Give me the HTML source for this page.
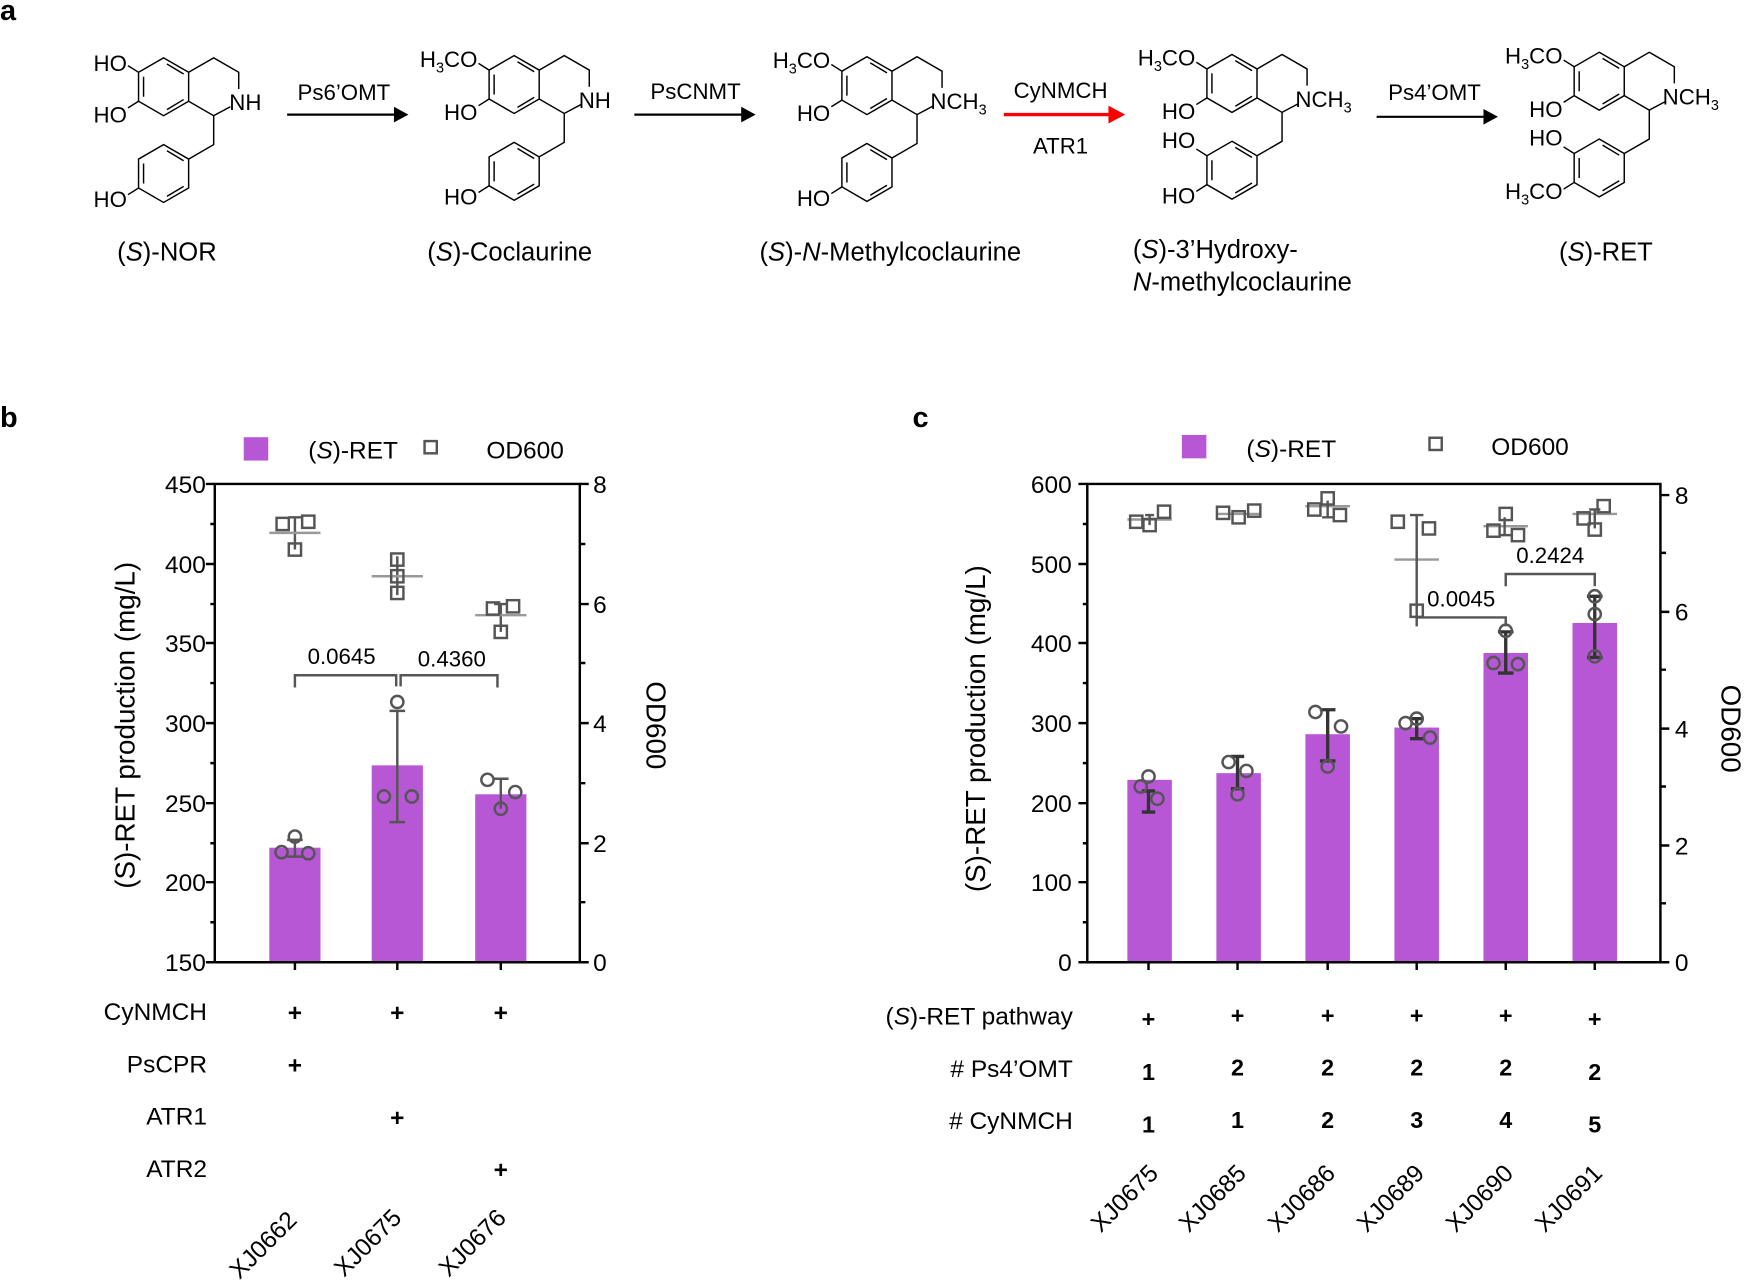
<!DOCTYPE html>
<html><head><meta charset="utf-8"><style>
html,body{margin:0;padding:0;background:#fff;}
svg{display:block;}
text{font-family:"Liberation Sans",Arial,sans-serif;fill:#000;}
</style></head><body>
<svg width="1745" height="1286" viewBox="0 0 1568 1156" preserveAspectRatio="none" xmlns="http://www.w3.org/2000/svg">
<defs>
<g id="core" fill="none" stroke="#000" stroke-width="1.3">
<path d="M0,-26 L22.5,-13 L22.5,13 L0,26 L-22.5,13 L-22.5,-13 Z"/>
<path d="M3,-20.5 L18,-11.5 M18,11.5 L3,20.5 M-18,-9 L-18,9"/>
<path d="M22.5,-13 L45,-26 L67.5,-13 L67.5,2 M60,18 L45,26 L22.5,13 M45,26 L45,52 L22.5,65"/>
<path d="M0,52 L22.5,65 L22.5,91 L0,104 L-22.5,91 L-22.5,65 Z"/>
<path d="M3,57.5 L18,66.5 M18,89.5 L3,98.5 M-18,69 L-18,87"/>
<path d="M-22.5,-13 L-32,-19 M-22.5,13 L-32,19 M-22.5,91 L-32,97"/>
</g>
<g id="sq"><rect x="-5.5" y="-5.5" width="11" height="11" fill="none" stroke="#555" stroke-width="2.2"/></g>
<g id="ci"><circle r="5.5" fill="none" stroke="#555" stroke-width="2.2"/></g>
</defs>

<!-- Panel a -->
<text x="0" y="18" font-size="26" font-weight="bold">a</text>
<g font-size="20">
<g transform="translate(147,78)"><use href="#core"/>
<text x="-33" y="-14" text-anchor="end">HO</text><text x="-33" y="32" text-anchor="end">HO</text>
<text x="59" y="21">NH</text><text x="-33" y="108" text-anchor="end">HO</text></g>
<g transform="translate(462,76)"><use href="#core"/>
<text x="-33" y="-16" text-anchor="end">H<tspan font-size="13" dy="5">3</tspan><tspan dy="-5">CO</tspan></text><text x="-33" y="32" text-anchor="end">HO</text>
<text x="58" y="21">NH</text><text x="-33" y="108" text-anchor="end">HO</text></g>
<g transform="translate(779,77)"><use href="#core"/>
<text x="-33" y="-16" text-anchor="end">H<tspan font-size="13" dy="5">3</tspan><tspan dy="-5">CO</tspan></text><text x="-33" y="32" text-anchor="end">HO</text>
<text x="57" y="21">NCH<tspan font-size="13" dy="5">3</tspan></text><text x="-33" y="108" text-anchor="end">HO</text></g>
<g transform="translate(1107,75)"><use href="#core"/>
<path d="M-22.5,65 L-32,59" stroke="#000" stroke-width="1.3"/>
<text x="-33" y="-16" text-anchor="end">H<tspan font-size="13" dy="5">3</tspan><tspan dy="-5">CO</tspan></text><text x="-33" y="32" text-anchor="end">HO</text>
<text x="57" y="21">NCH<tspan font-size="13" dy="5">3</tspan></text><text x="-33" y="58" text-anchor="end">HO</text><text x="-33" y="108" text-anchor="end">HO</text></g>
<g transform="translate(1437,73)"><use href="#core"/>
<path d="M-22.5,65 L-32,59" stroke="#000" stroke-width="1.3"/>
<text x="-33" y="-16" text-anchor="end">H<tspan font-size="13" dy="5">3</tspan><tspan dy="-5">CO</tspan></text><text x="-33" y="32" text-anchor="end">HO</text>
<text x="57" y="21">NCH<tspan font-size="13" dy="5">3</tspan></text><text x="-33" y="58" text-anchor="end">HO</text><text x="-33" y="106" text-anchor="end">H<tspan font-size="13" dy="5">3</tspan><tspan dy="-5">CO</tspan></text></g>
</g>
<g stroke="#000" stroke-width="2"><line x1="258" y1="103" x2="356" y2="103"/><line x1="570" y1="103" x2="668" y2="103"/><line x1="1237" y1="105" x2="1335" y2="105"/></g>
<path d="M354,96 L367,103 L354,110 Z M666,96 L679,103 L666,110 Z M1333,98 L1346,105 L1333,112 Z" fill="#000"/>
<line x1="902" y1="103" x2="998" y2="103" stroke="#f00" stroke-width="3"/>
<path d="M996,95 L1011,103 L996,111 Z" fill="#f00"/>
<g font-size="20" text-anchor="middle">
<text x="309" y="90">Ps6’OMT</text><text x="625" y="89">PsCNMT</text><text x="953" y="88">CyNMCH</text><text x="953" y="138">ATR1</text><text x="1289" y="90">Ps4’OMT</text>
</g>
<g font-size="23" text-anchor="middle">
<text x="150" y="234">(<tspan font-style="italic">S</tspan>)-NOR</text>
<text x="458" y="234">(<tspan font-style="italic">S</tspan>)-Coclaurine</text>
<text x="800" y="234">(<tspan font-style="italic">S</tspan>)-<tspan font-style="italic">N</tspan>-Methylcoclaurine</text>
<text x="1443" y="234">(<tspan font-style="italic">S</tspan>)-RET</text>
</g>
<g font-size="23">
<text x="1018" y="232">(<tspan font-style="italic">S</tspan>)-3’Hydroxy-</text>
<text x="1018" y="261"><tspan font-style="italic">N</tspan>-methylcoclaurine</text>
</g>

<!-- Panel b -->
<text x="0" y="384" font-size="26" font-weight="bold">b</text>
<rect x="219" y="393" width="22" height="21" fill="#b757d6"/>
<text x="277" y="412" font-size="22">(<tspan font-style="italic">S</tspan>)-RET</text>
<use href="#sq" x="387" y="402"/>
<text x="437" y="412" font-size="22">OD600</text>
<g fill="#b757d6"><rect x="242" y="762" width="46" height="103"/><rect x="334" y="688" width="46" height="177"/><rect x="427" y="714" width="46" height="151"/></g>
<g stroke="#000" stroke-width="2.2" fill="none">
<path d="M193,435 V865 H521 V435 Z"/>
<path d="M185,435H193M185,507H193M185,578H193M185,650H193M185,722H193M185,793H193M185,865H193"/>
<path d="M189,471H193M189,543H193M189,614H193M189,686H193M189,758H193M189,829H193"/>
<path d="M521,435H529M521,543H529M521,650H529M521,758H529M521,865H529"/>
<path d="M521,489H526M521,596H526M521,704H526M521,811H526"/>
<path d="M265,865V872M357,865V872M450,865V872"/>
</g>
<g font-size="22" text-anchor="end"><text x="185" y="443">450</text><text x="185" y="515">400</text><text x="185" y="586">350</text><text x="185" y="658">300</text><text x="185" y="730">250</text><text x="185" y="801">200</text><text x="185" y="873">150</text></g>
<g font-size="22"><text x="533" y="443">8</text><text x="533" y="551">6</text><text x="533" y="658">4</text><text x="533" y="766">2</text><text x="533" y="873">0</text></g>
<text transform="translate(121,652) rotate(-90)" font-size="25" text-anchor="middle">(S)-RET production (mg/L)</text>
<text transform="translate(581,652) rotate(90)" font-size="25" text-anchor="middle">OD600</text>
<g stroke="#555" stroke-width="2.2" fill="none">
<path d="M265,755V770M258,755H272M258,770H272"/>
<path d="M357,639V739M350,639H364M350,739H364"/>
<path d="M450,700V727M443,700H457"/>
<path d="M265,465V494M259,465H271M357,500V535M450,543V568M444,543H456"/>
<path d="M265,618V607H356V617M360,617V607H447V618"/>
</g>
<g stroke="#999" stroke-width="2.2"><path d="M242,479H288M334,518H380M427,553H473"/></g>
<use href="#ci" x="265" y="752"/><use href="#ci" x="253" y="766"/><use href="#ci" x="277" y="767"/>
<use href="#ci" x="357" y="631"/><use href="#ci" x="345" y="716"/><use href="#ci" x="370" y="716"/>
<use href="#ci" x="438" y="701"/><use href="#ci" x="463" y="712"/><use href="#ci" x="450" y="727"/>
<use href="#sq" x="254" y="471"/><use href="#sq" x="277" y="469"/><use href="#sq" x="265" y="494"/>
<use href="#sq" x="357" y="503"/><use href="#sq" x="357" y="518"/><use href="#sq" x="357" y="533"/>
<use href="#sq" x="443" y="547"/><use href="#sq" x="461" y="545"/><use href="#sq" x="450" y="568"/>
<g font-size="20" text-anchor="middle"><text x="307" y="597">0.0645</text><text x="406" y="599">0.4360</text></g>
<g font-size="22" text-anchor="end"><text x="186" y="917">CyNMCH</text><text x="186" y="964">PsCPR</text><text x="186" y="1011">ATR1</text><text x="186" y="1058">ATR2</text></g>
<g font-size="22" font-weight="bold" text-anchor="middle"><text x="265" y="918">+</text><text x="357" y="918">+</text><text x="450" y="918">+</text><text x="265" y="965">+</text><text x="357" y="1012">+</text><text x="450" y="1059">+</text></g>
<g font-size="22" text-anchor="end"><text transform="translate(268,1098) rotate(-45)">XJ0662</text><text transform="translate(362,1096) rotate(-45)">XJ0675</text><text transform="translate(456,1096) rotate(-45)">XJ0676</text></g>

<!-- Panel c -->
<text x="820" y="384" font-size="26" font-weight="bold">c</text>
<rect x="1062" y="391" width="22" height="21" fill="#b757d6"/>
<text x="1120" y="411" font-size="22">(<tspan font-style="italic">S</tspan>)-RET</text>
<use href="#sq" x="1290" y="399"/>
<text x="1340" y="409" font-size="22">OD600</text>
<g fill="#b757d6">
<rect x="1013" y="701" width="40" height="164"/><rect x="1093" y="695" width="40" height="170"/><rect x="1173" y="660" width="40" height="205"/><rect x="1253" y="654" width="40" height="211"/><rect x="1333" y="587" width="40" height="278"/><rect x="1413" y="560" width="40" height="305"/>
</g>
<g stroke="#000" stroke-width="2.2" fill="none">
<path d="M977,435 V865 H1492 V435 Z"/>
<path d="M969,435H977M969,507H977M969,578H977M969,650H977M969,722H977M969,793H977M969,865H977"/>
<path d="M973,471H977M973,543H977M973,614H977M973,686H977M973,758H977M973,829H977"/>
<path d="M1492,445H1500M1492,550H1500M1492,655H1500M1492,760H1500M1492,865H1500"/>
<path d="M1492,497H1497M1492,602H1497M1492,707H1497M1492,812H1497"/>
<path d="M1032,865V872M1112,865V872M1193,865V872M1273,865V872M1353,865V872M1433,865V872"/>
</g>
<g font-size="22" text-anchor="end"><text x="963" y="443">600</text><text x="963" y="515">500</text><text x="963" y="586">400</text><text x="963" y="658">300</text><text x="963" y="730">200</text><text x="963" y="801">100</text><text x="963" y="873">0</text></g>
<g font-size="22"><text x="1505" y="453">8</text><text x="1505" y="558">6</text><text x="1505" y="663">4</text><text x="1505" y="768">2</text><text x="1505" y="873">0</text></g>
<text transform="translate(885,655) rotate(-90)" font-size="25" text-anchor="middle">(S)-RET production (mg/L)</text>
<text transform="translate(1547,655) rotate(90)" font-size="25" text-anchor="middle">OD600</text>
<g stroke="#999" stroke-width="2.2"><path d="M1013,467H1053M1093,462H1133M1173,455H1213M1253,503H1293M1333,473H1373M1413,462H1453"/></g>
<g stroke="#333" stroke-width="3" fill="none">
<path d="M1032,711V730M1026,711H1038M1026,730H1038"/>
<path d="M1112,680V709M1106,680H1118M1106,709H1118"/>
<path d="M1193,638V684M1186,638H1200M1186,684H1200"/>
<path d="M1273,646V664M1267,646H1279M1267,664H1279"/>
<path d="M1353,568V605M1346,568H1360M1346,605H1360"/>
<path d="M1433,536V591M1426,536H1440M1426,591H1440"/>
</g>
<g stroke="#555" stroke-width="2.2" fill="none">
<path d="M1273,463V563M1267,463H1279"/>
<path d="M1033,463V472M1029,463H1037M1352,465V481M1348,481H1358M1433,458V475M1428,458H1438M1193,450V465M1188,465H1198"/>
<path d="M1273,555H1353V563M1353,527V516H1433V527"/>
</g>
<use href="#ci" x="1025" y="707"/><use href="#ci" x="1032" y="698"/><use href="#ci" x="1040" y="718"/>
<use href="#ci" x="1104" y="685"/><use href="#ci" x="1120" y="693"/><use href="#ci" x="1112" y="714"/>
<use href="#ci" x="1182" y="640"/><use href="#ci" x="1205" y="653"/><use href="#ci" x="1193" y="689"/>
<use href="#ci" x="1263" y="650"/><use href="#ci" x="1273" y="646"/><use href="#ci" x="1285" y="663"/>
<use href="#ci" x="1353" y="567"/><use href="#ci" x="1342" y="596"/><use href="#ci" x="1364" y="597"/>
<use href="#ci" x="1433" y="536"/><use href="#ci" x="1433" y="552"/><use href="#ci" x="1433" y="590"/>
<use href="#sq" x="1021" y="469"/><use href="#sq" x="1033" y="472"/><use href="#sq" x="1046" y="460"/>
<use href="#sq" x="1099" y="461"/><use href="#sq" x="1113" y="465"/><use href="#sq" x="1127" y="459"/>
<use href="#sq" x="1181" y="458"/><use href="#sq" x="1193" y="448"/><use href="#sq" x="1204" y="463"/>
<use href="#sq" x="1273" y="549"/><use href="#sq" x="1256" y="469"/><use href="#sq" x="1284" y="475"/>
<use href="#sq" x="1353" y="462"/><use href="#sq" x="1342" y="477"/><use href="#sq" x="1364" y="481"/>
<use href="#sq" x="1423" y="466"/><use href="#sq" x="1441" y="455"/><use href="#sq" x="1433" y="476"/>
<g font-size="20" text-anchor="middle"><text x="1313" y="545">0.0045</text><text x="1393" y="506">0.2424</text></g>
<g font-size="22" text-anchor="end"><text x="964" y="921">(<tspan font-style="italic">S</tspan>)-RET pathway</text><text x="964" y="968"># Ps4’OMT</text><text x="964" y="1015"># CyNMCH</text></g>
<g font-size="21" font-weight="bold" text-anchor="middle">
<text x="1032" y="923">+</text><text x="1112" y="920">+</text><text x="1193" y="920">+</text><text x="1273" y="920">+</text><text x="1353" y="920">+</text><text x="1433" y="923">+</text>
<text x="1032" y="971">1</text><text x="1112" y="967">2</text><text x="1193" y="967">2</text><text x="1273" y="967">2</text><text x="1353" y="967">2</text><text x="1433" y="971">2</text>
<text x="1032" y="1018">1</text><text x="1112" y="1014">1</text><text x="1193" y="1014">2</text><text x="1273" y="1014">3</text><text x="1353" y="1014">4</text><text x="1433" y="1018">5</text>
</g>
<g font-size="22" text-anchor="end">
<text transform="translate(1042,1056) rotate(-45)">XJ0675</text><text transform="translate(1121,1056) rotate(-45)">XJ0685</text><text transform="translate(1201,1056) rotate(-45)">XJ0686</text><text transform="translate(1281,1056) rotate(-45)">XJ0689</text><text transform="translate(1361,1056) rotate(-45)">XJ0690</text><text transform="translate(1441,1056) rotate(-45)">XJ0691</text>
</g>
</svg>
</body></html>
